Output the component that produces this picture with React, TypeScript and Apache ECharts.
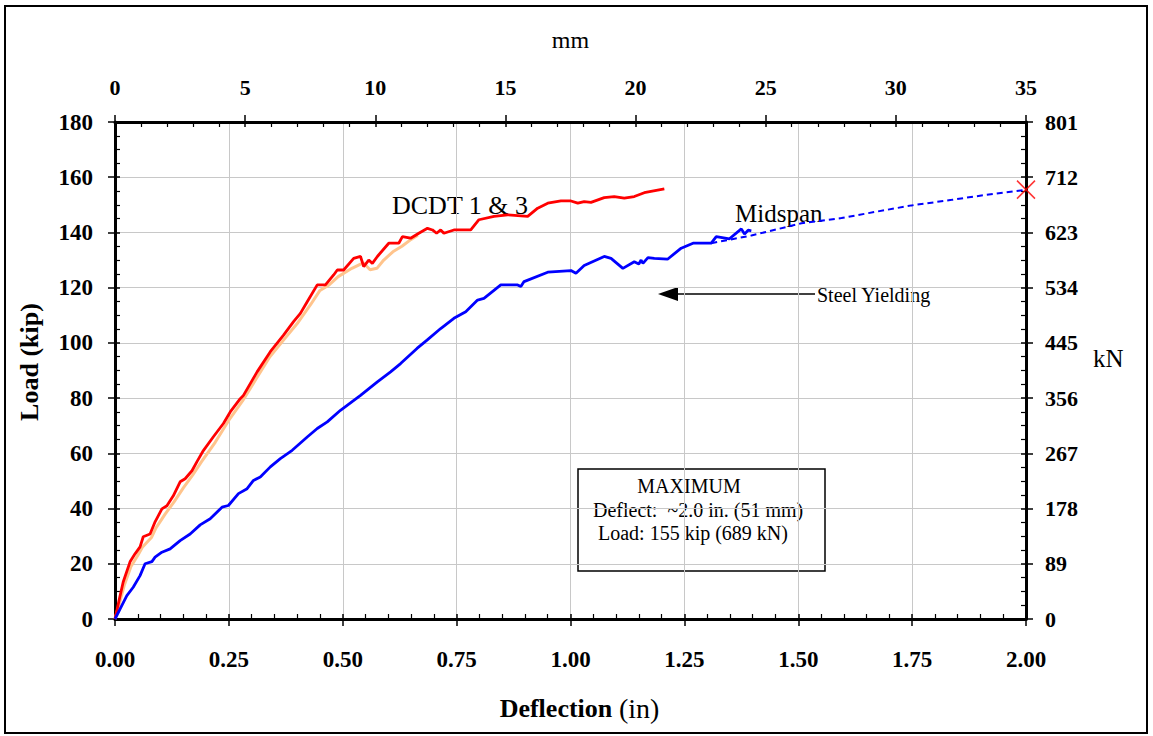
import React, { useEffect, useRef } from "react";
import * as echarts from "echarts";

// ---- DATA ----
const dcdtDeflection = [0, 0.011, 0.018, 0.033, 0.044, 0.055, 0.062, 0.077, 0.088, 0.103, 0.114, 0.128, 0.143, 0.154, 0.169, 0.18, 0.194, 0.216, 0.238, 0.253, 0.275, 0.282, 0.312, 0.341, 0.37, 0.392, 0.407, 0.422, 0.444, 0.462, 0.48, 0.488, 0.502, 0.524, 0.539, 0.546, 0.557, 0.565, 0.576, 0.601, 0.623, 0.631, 0.649, 0.667, 0.686, 0.697, 0.706, 0.715, 0.722, 0.744, 0.781, 0.799, 0.832, 0.862, 0.906, 0.928, 0.95, 0.979, 1.001, 1.016, 1.03, 1.045, 1.074, 1.096, 1.118, 1.14, 1.162, 1.206];
const dcdtLoad = [0, 8.3, 13.4, 20.7, 23.6, 26.1, 29.8, 30.8, 35.2, 39.9, 41.0, 44.6, 49.7, 50.8, 53.7, 57.0, 61.0, 66.0, 70.8, 75.0, 79.8, 81.0, 89.5, 96.8, 102.8, 107.7, 110.7, 114.9, 121.0, 121.0, 124.6, 126.4, 126.4, 130.6, 131.3, 127.6, 130.0, 128.8, 131.3, 136.1, 136.1, 138.5, 137.9, 139.7, 141.5, 140.9, 139.7, 140.9, 139.7, 140.9, 140.9, 144.6, 145.8, 146.4, 145.8, 148.8, 150.6, 151.4, 151.4, 150.6, 151.2, 150.9, 152.6, 153.0, 152.4, 153.0, 154.4, 155.8];

const dcdt2Deflection = [0, 0.012, 0.02, 0.035, 0.05, 0.06, 0.08, 0.09, 0.11, 0.13, 0.15, 0.17, 0.19, 0.22, 0.25, 0.28, 0.31, 0.34, 0.37, 0.4, 0.43, 0.45, 0.47, 0.49, 0.52, 0.545, 0.56, 0.575, 0.59, 0.61, 0.63, 0.65, 0.665];
const dcdt2Load = [0, 7, 12, 19, 23, 26, 29.5, 33, 38, 42.5, 47.5, 52, 57, 64, 72, 79, 87, 95, 101, 107, 114, 119, 121, 124, 127, 129, 126.5, 127, 130, 133, 135, 137.5, 139];

const midspanDeflection = [0, 0.011, 0.026, 0.04, 0.055, 0.066, 0.081, 0.088, 0.103, 0.121, 0.143, 0.165, 0.187, 0.209, 0.235, 0.249, 0.271, 0.29, 0.304, 0.319, 0.341, 0.363, 0.389, 0.422, 0.444, 0.466, 0.495, 0.539, 0.576, 0.605, 0.627, 0.663, 0.685, 0.715, 0.744, 0.77, 0.796, 0.81, 0.847, 0.884, 0.891, 0.898, 0.95, 1.001, 1.012, 1.03, 1.074, 1.089, 1.115, 1.14, 1.15, 1.155, 1.159, 1.17, 1.184, 1.213, 1.243, 1.269, 1.309, 1.32, 1.349, 1.375, 1.382, 1.39, 1.397];
const midspanLoad = [0, 3.6, 8.5, 11.5, 15.7, 20.0, 20.8, 22.4, 24.2, 25.4, 28.4, 30.8, 34.1, 36.3, 40.5, 41.1, 45.4, 47.2, 50.2, 51.4, 55.1, 58.1, 61.1, 65.9, 69.0, 71.4, 75.6, 81.0, 85.9, 89.5, 92.5, 98.0, 101.0, 105.2, 108.9, 111.3, 115.5, 116.1, 121.0, 121.0, 120.4, 122.2, 125.6, 126.2, 125.2, 128.0, 131.3, 130.6, 127.0, 129.4, 128.6, 130.0, 128.8, 130.9, 130.6, 130.3, 134.3, 136.1, 136.1, 138.5, 137.7, 141.3, 139.4, 140.8, 140.6];

const extrapDeflection = [1.309, 1.397, 1.507, 1.595, 1.654, 1.749, 1.837, 1.911, 2.0];
const extrapLoad = [136.1, 138.9, 143.3, 145.2, 147.0, 149.8, 151.8, 153.6, 155.4];

const maxDeflection = [2.0];
const maxLoad = [155.5];

const kipAxis = { min: 0, max: 180, interval: 20 };
const kNAxis = { min: 0, max: 801, interval: 89 };
const inAxis = { min: 0, max: 2, interval: 0.25 };
const mmAxis = { min: 0, max: 35, interval: 5 };

const boxLines = ["MAXIMUM", "Deflect:  ~2.0 in. (51 mm)", "Load: 155 kip (689 kN)"];

const zip = (xs: number[], ys: number[]) => xs.map((x, i) => [x, ys[i]]);

const serif = '"Liberation Serif", "Times New Roman", serif';

export default function App() {
  const ref = useRef<HTMLDivElement>(null);
  useEffect(() => {
    if (!ref.current) return;
    const chart = echarts.init(ref.current, undefined, { renderer: "svg" });

    const mainTick = { show: true, length: 7, lineStyle: { color: "#000", width: 1.5 } };
    const axisLine = { show: true, onZero: false, lineStyle: { color: "#000", width: 3 } };
    const hiddenLine = { show: false, onZero: false };
    const helperTick = { show: true, inside: true, length: 5, lineStyle: { color: "#000", width: 1.5 } };
    const minor = (n: number) => ({ show: true, splitNumber: n, length: 5, lineStyle: { color: "#000", width: 1.2 } });
    const grid = { show: true, lineStyle: { color: "#c8c8c8", width: 1 } };
    const lblMain = { fontFamily: serif, fontWeight: "bold" as const, fontSize: 23, color: "#000" };
    const lblSec = { fontFamily: serif, fontWeight: "bold" as const, fontSize: 22, color: "#000" };

    chart.setOption({
      animation: false,
      backgroundColor: "#fff",
      grid: { left: 115, right: 127, top: 122, bottom: 117, containLabel: false, outerBoundsMode: "none" },
      xAxis: [
        {
          type: "value", position: "bottom", ...inAxis,
          axisLine, axisTick: mainTick, minorTick: { show: false }, splitLine: grid,
          axisLabel: { ...lblMain, margin: 29, formatter: (v: number) => v.toFixed(2) },
          name: "{b|Deflection}  {n|(in)}", nameLocation: "middle", nameGap: 75,
          nameTextStyle: {
            padding: [0, 0, 0, 18],
            rich: {
              b: { fontFamily: serif, fontWeight: "bold", fontSize: 26, color: "#000" },
              n: { fontFamily: serif, fontWeight: "normal", fontSize: 28, color: "#000" },
            },
          },
        },
        {
          type: "value", position: "top", ...mmAxis,
          axisLine, axisTick: mainTick, minorTick: { show: false }, splitLine: { show: false },
          axisLabel: { ...lblSec, margin: 24 },
          name: "mm", nameLocation: "middle", nameGap: 70,
          nameTextStyle: { fontFamily: serif, fontSize: 24, color: "#000" },
        },
        {
          type: "value", position: "bottom", ...inAxis,
          axisLine: hiddenLine, axisTick: helperTick, minorTick: minor(5), splitLine: { show: false },
          axisLabel: { show: false },
        },
        {
          type: "value", position: "top", ...mmAxis,
          axisLine: hiddenLine, axisTick: helperTick, minorTick: minor(5), splitLine: { show: false },
          axisLabel: { show: false },
        },
      ],
      yAxis: [
        {
          type: "value", position: "left", ...kipAxis,
          axisLine, axisTick: mainTick, minorTick: { show: false }, splitLine: grid,
          axisLabel: { ...lblMain, margin: 22 },
        },
        {
          type: "value", position: "right", ...kNAxis,
          axisLine, axisTick: mainTick, minorTick: { show: false }, splitLine: { show: false },
          axisLabel: { ...lblSec, margin: 19 },
        },
        {
          type: "value", position: "left", ...kipAxis,
          axisLine: hiddenLine, axisTick: helperTick, minorTick: minor(4), splitLine: { show: false },
          axisLabel: { show: false },
        },
        {
          type: "value", position: "right", ...kNAxis,
          axisLine: hiddenLine, axisTick: helperTick, minorTick: minor(4), splitLine: { show: false },
          axisLabel: { show: false },
        },
      ],
      series: [
        {
          name: "DCDT 3", type: "line", xAxisIndex: 0, yAxisIndex: 0, data: zip(dcdt2Deflection, dcdt2Load),
          showSymbol: false, lineStyle: { color: "#FFC48C", width: 3 }, z: 2,
        },
        {
          name: "DCDT 1", type: "line", xAxisIndex: 0, yAxisIndex: 0, data: zip(dcdtDeflection, dcdtLoad),
          showSymbol: false, lineStyle: { color: "#FF0000", width: 2.8 }, z: 3,
        },
        {
          name: "Midspan", type: "line", xAxisIndex: 0, yAxisIndex: 0, data: zip(midspanDeflection, midspanLoad),
          showSymbol: false, lineStyle: { color: "#0000FF", width: 2.8 }, z: 3,
        },
        {
          name: "Extrapolated", type: "line", xAxisIndex: 0, yAxisIndex: 0, data: zip(extrapDeflection, extrapLoad),
          showSymbol: false, lineStyle: { color: "#0000FF", width: 2, type: [6, 4] }, z: 3,
        },
        {
          name: "Maximum", type: "scatter", xAxisIndex: 0, yAxisIndex: 0, data: zip(maxDeflection, maxLoad),
          symbol: "path://M0,0L10,10M10,0L0,10", symbolSize: 18,
          itemStyle: { color: "none", borderColor: "#FF0000", borderWidth: 1.5 }, z: 5,
        },
      ],
      graphic: [
        { type: "rect", shape: { x: 5, y: 6, width: 1142, height: 727 }, style: { fill: "none", stroke: "#000", lineWidth: 2 }, silent: true },
        { type: "text", x: 29, y: 362, rotation: Math.PI / 2, style: { text: "Load (kip)", font: `bold 26px ${serif}`, fill: "#000", align: "center", verticalAlign: "middle" } },
        { type: "text", x: 392, y: 205, style: { text: "DCDT 1 & 3", font: `26px ${serif}`, fill: "#000", verticalAlign: "middle" } },
        { type: "text", x: 735, y: 213, style: { text: "Midspan", font: `25px ${serif}`, fill: "#000", verticalAlign: "middle" } },
        { type: "line", shape: { x1: 676, y1: 294, x2: 815, y2: 294 }, style: { stroke: "#000", lineWidth: 1.5 } },
        { type: "polygon", shape: { points: [[658, 294], [678, 287], [678, 301]] }, style: { fill: "#000" } },
        { type: "text", x: 817, y: 295, style: { text: "Steel Yielding", font: `20px ${serif}`, fill: "#000", verticalAlign: "middle" } },
        { type: "rect", shape: { x: 578, y: 469, width: 247, height: 102 }, style: { fill: "#fff", stroke: "#000", lineWidth: 1.5 } },
        { type: "text", x: 689, y: 486, style: { text: boxLines[0], font: `20px ${serif}`, fill: "#000", align: "center", verticalAlign: "middle" } },
        { type: "text", x: 593, y: 510, style: { text: boxLines[1], font: `20px ${serif}`, fill: "#000", verticalAlign: "middle" } },
        { type: "text", x: 598, y: 533, style: { text: boxLines[2], font: `20px ${serif}`, fill: "#000", verticalAlign: "middle" } },
        { type: "text", x: 1093, y: 358, style: { text: "kN", font: `25px ${serif}`, fill: "#000", verticalAlign: "middle" } },
      ],
    });
    return () => chart.dispose();
  }, []);
  return <div ref={ref} style={{ position: "absolute", left: 0, top: 0, width: 1153, height: 736 }} />;
}
